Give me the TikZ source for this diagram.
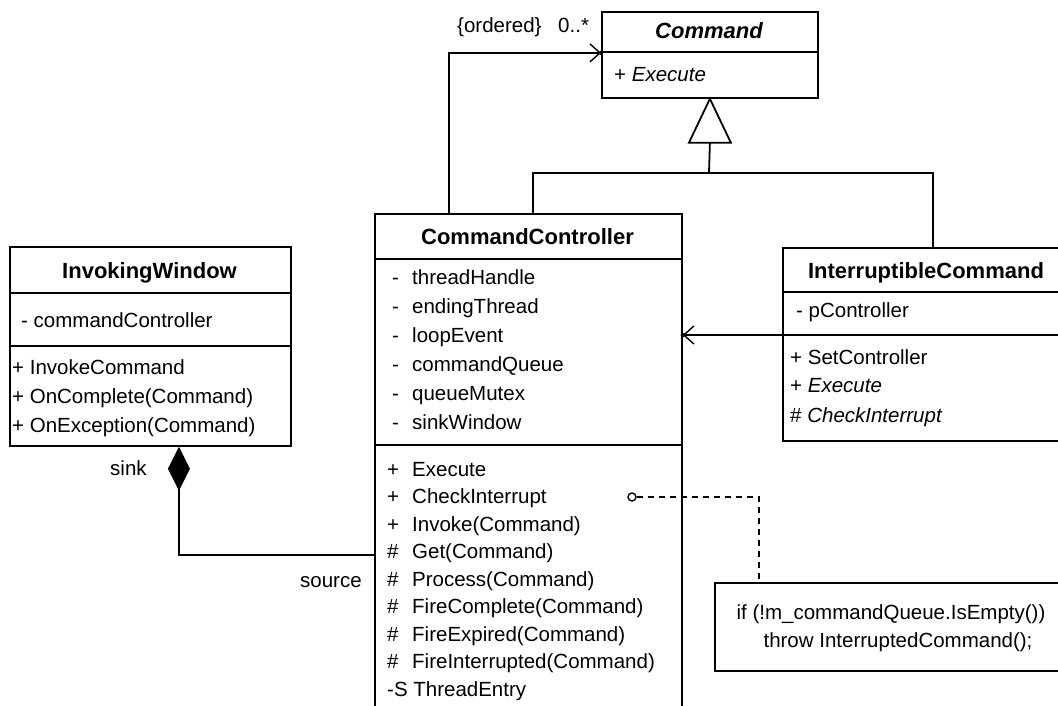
\documentclass[tikz,border=0pt]{standalone}
\usepackage{fontspec}
\setmainfont{Liberation Sans}
\usetikzlibrary{arrows.meta}

\newcommand\umltext{\fontsize{20.5}{24}\selectfont}
\newcommand\umlhead{\fontsize{22}{26}\selectfont\bfseries}

\tikzset{
  classbox/.style={draw, line width=1.8pt, inner sep=0pt, anchor=north west},
  member/.style={anchor=base west, inner sep=0pt, font=\umltext},
  title/.style={anchor=base, inner sep=0pt, font=\umlhead},
  link/.style={line width=1.8pt},
  navarrow/.style={link, -{Straight Barb[length=10pt,width=18pt,line width=1.4pt]}},
  composite/.style={link, {Diamond[length=44pt,width=22pt]}-},
  notelink/.style={line width=1.6pt, dash pattern=on 6pt off 5pt},
}

\begin{document}
\begin{tikzpicture}[x=1pt,y=-1pt]
    \useasboundingbox (0,0) rectangle (1058,706);
    \clip (0,0) rectangle (1058,706);

    % Klasse Command (abstrakt)
    \node[classbox, minimum width=216pt, minimum height=86pt] (cmd) at (601,11) {};
    \draw[line width=1.8pt] (601,52) -- (817,52);
    \node[title] (cmdname) at (709,39) {\itshape Command};
    \node[member] (cmdexec) at (614,82) {+ \textit{Execute}};

    % Klasse CommandController (unten offen)
    \node[classbox, minimum width=307pt, minimum height=520pt] (ctrl) at (374,213) {};
    \draw[line width=1.8pt] (374,259) -- (681,259);
    \draw[line width=1.8pt] (374,445) -- (681,445);
    \node[title] (ctrlname) at (527.5,244) {CommandController};
    \foreach \nm [count=\i from 0] in {threadHandle, endingThread, loopEvent,
        commandQueue, queueMutex, sinkWindow} {
      \node[member] (attrsym\i) at (392,284+29*\i) {-};
      \node[member] (attr\i) at (412,284+29*\i) {\nm};
    }
    \foreach \sym/\nm [count=\i from 0] in {+/Execute, +/CheckInterrupt,
        +/Invoke(Command), \#/Get(Command), \#/Process(Command),
        \#/FireComplete(Command), \#/FireExpired(Command),
        \#/FireInterrupted(Command)} {
      \node[member] (opsym\i) at (387,476+27.5*\i) {\sym};
      \node[member] (op\i) at (412,476+27.5*\i) {\nm};
    }
    \node[member] (opentry) at (387,696) {-S ThreadEntry};

    % Klasse InvokingWindow
    \node[classbox, minimum width=281pt, minimum height=199pt] (inv) at (9,246) {};
    \draw[line width=1.8pt] (9,293) -- (290,293);
    \draw[line width=1.8pt] (9,346) -- (290,346);
    \node[title] (invname) at (149.5,278) {InvokingWindow};
    \node[member] (invattr) at (21,327) {- commandController};
    \node[member] (invop0) at (12,374) {+ InvokeCommand};
    \node[member] (invop1) at (12,403) {+ OnComplete(Command)};
    \node[member] (invop2) at (12,432) {+ OnException(Command)};

    % Klasse InterruptibleCommand (rechts abgeschnitten)
    \node[classbox, minimum width=290pt, minimum height=193pt] (intr) at (782,247) {};
    \draw[line width=1.8pt] (782,292) -- (1072,292);
    \draw[line width=1.8pt] (782,335) -- (1072,335);
    \node[title] (intrname) at (926,278) {InterruptibleCommand};
    \node[member] (intrattr) at (796,317) {- pController};
    \node[member] (introp0) at (790,364) {+ SetController};
    \node[member] (introp1) at (790,392) {+ \textit{Execute}};
    \node[member] (introp2) at (790,422) {\# \textit{CheckInterrupt}};

    % Notiz
    \node[classbox, minimum width=358pt, minimum height=88pt] (note) at (714,582) {};
    \node[anchor=base, inner sep=0pt, font=\umltext] (noteline0) at (891,619) {if (!m\_commandQueue.IsEmpty())};
    \node[anchor=base, inner sep=0pt, font=\umltext] (noteline1) at (898,647) {throw InterruptedCommand();};

    % Vererbung
    \coordinate (fork) at (709,173);
    \draw[line width=1.8pt, fill=white] (cmd.south) -- ++(-21,44) -- ++(42,0) -- cycle;
    \draw[link] ([yshift=-44pt]cmd.south) -- (fork);
    \draw[link] ([xshift=4.5pt]ctrl.north) |- (fork) -| ([xshift=5pt]intr.north);

    % Assoziationen
    \draw[navarrow] ([xshift=-79.5pt]ctrl.north) |- ([yshift=2pt]cmd.west);
    \fill ([yshift=2pt]cmd.west) circle (2.2pt);
    \node[member] (ordered) at (457,33) {\{ordered\}};
    \node[member] (mult) at (558,33) {0..*};

    \coordinate (intrlink) at (782,335);
    \draw[navarrow] (intrlink) -- (intrlink -| ctrl.east);
    \fill (intrlink -| ctrl.east) circle (2.2pt);

    % Komposition
    \coordinate (src) at (374,555);
    \draw[composite] ([xshift=28.5pt]inv.south) |- (src);
    \node[member] (sink) at (110,475) {sink};
    \node[member] (source) at (300,587) {source};

    % Notiz-Anker
    \node[circle, draw, line width=1.4pt, inner sep=0pt, minimum size=8pt] (anchorpt) at (632,497) {};
    \draw[notelink] (anchorpt) -| ([xshift=-135pt]note.north);
\end{tikzpicture}
\end{document}
